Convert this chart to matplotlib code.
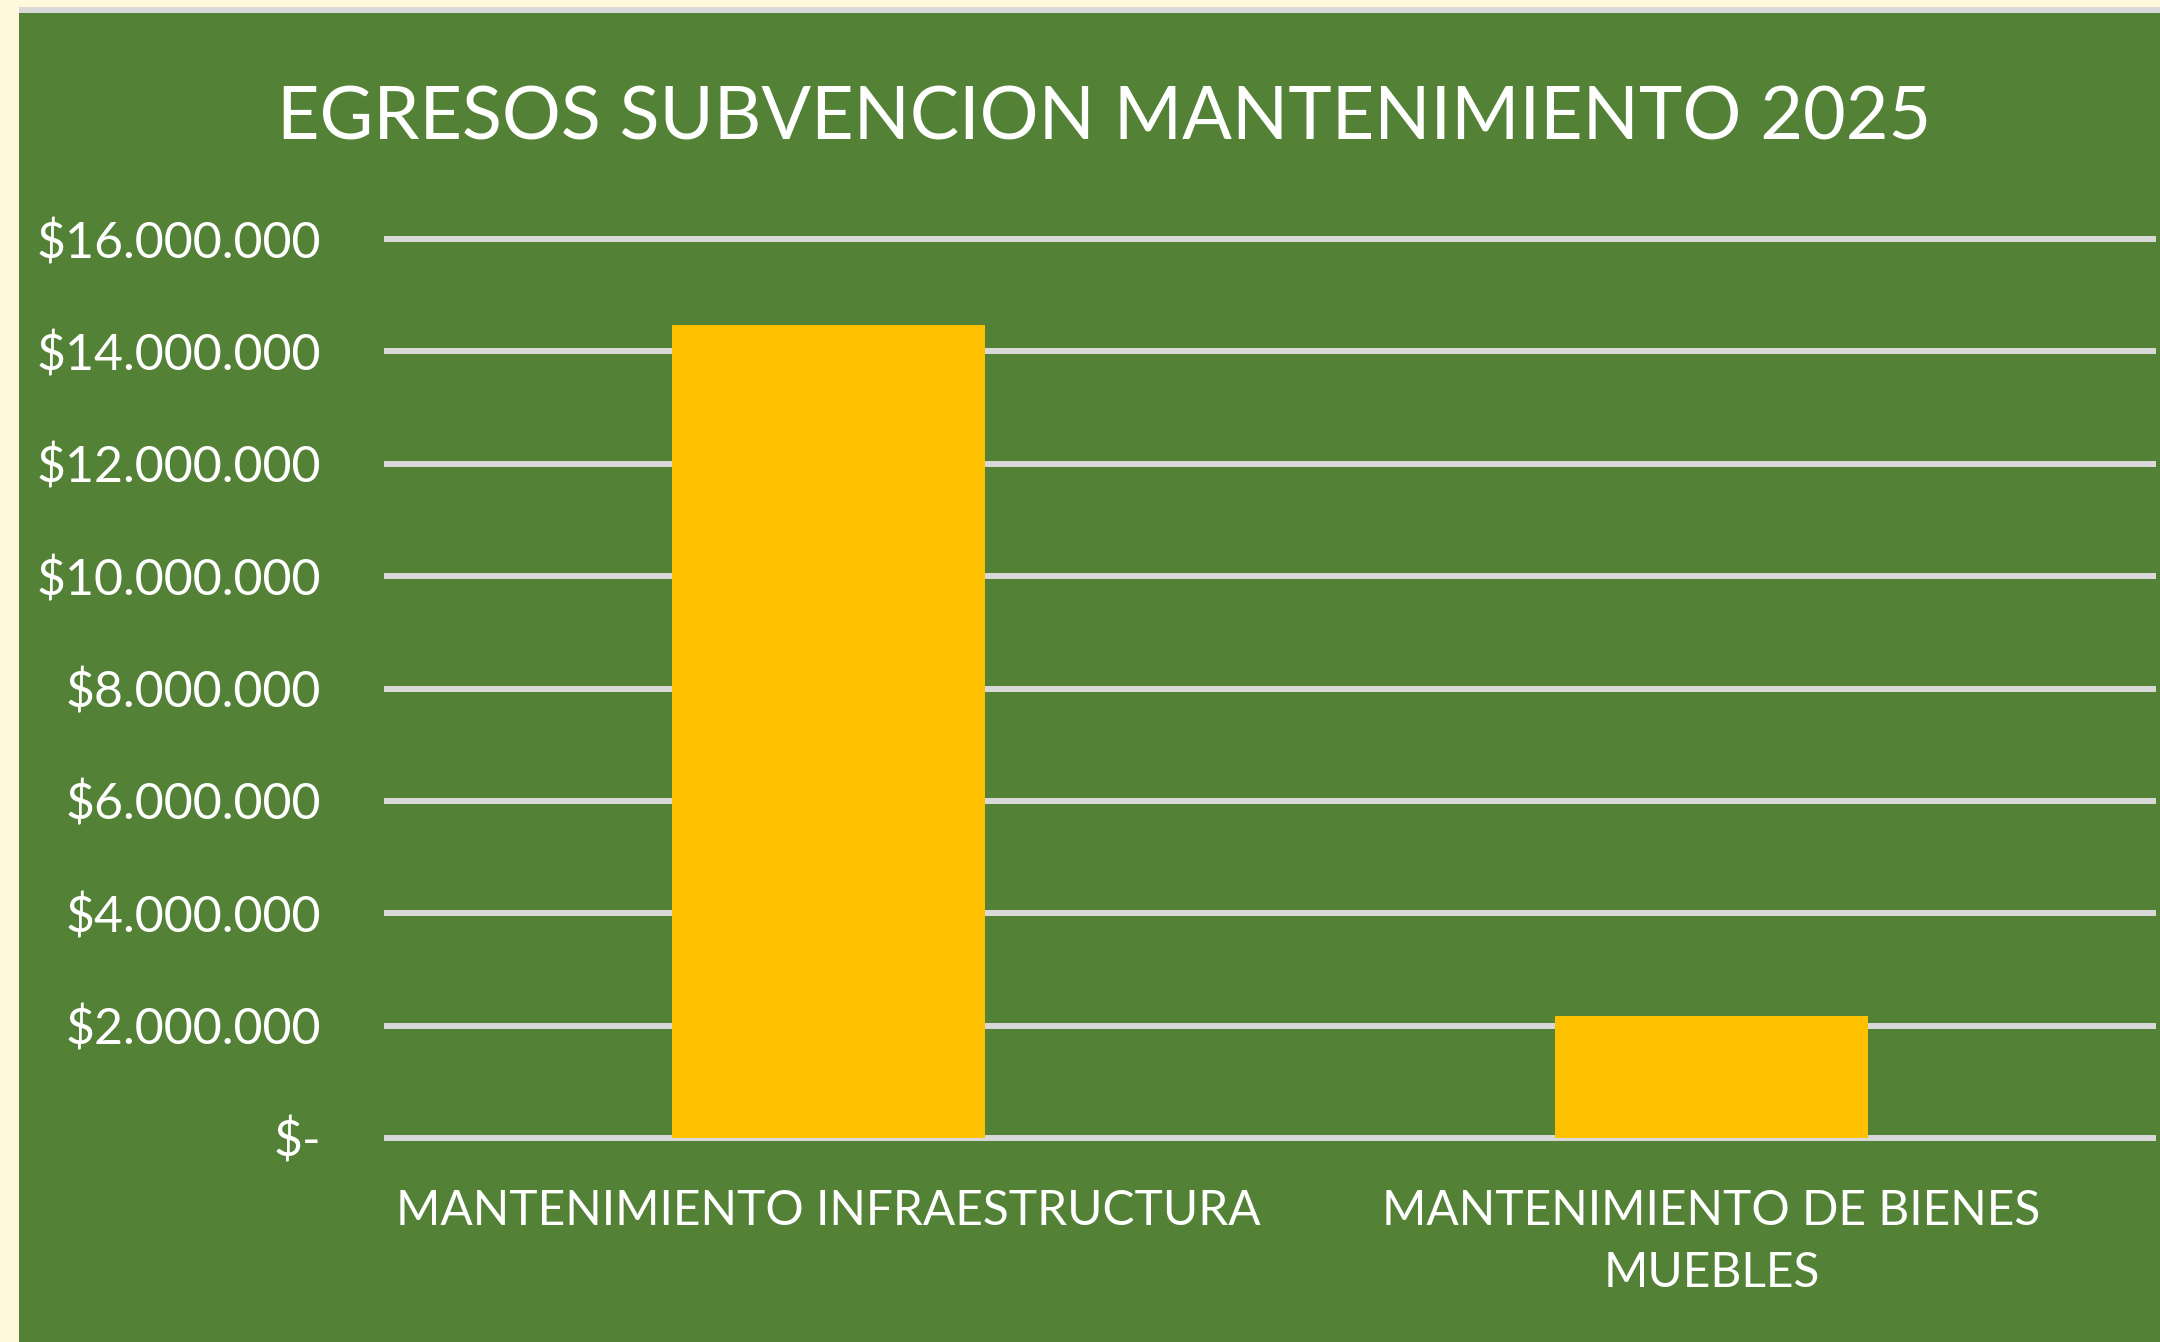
import matplotlib.pyplot as plt
from matplotlib.patches import Rectangle
from matplotlib.ticker import FuncFormatter

# datos
categorias = ['MANTENIMIENTO INFRAESTRUCTURA', 'MANTENIMIENTO DE BIENES\nMUEBLES']
egresos = [14470000, 2170000]
ticks_y = [0, 2000000, 4000000, 6000000, 8000000, 10000000, 12000000, 14000000, 16000000]

VERDE = '#538135'
AMARILLO = '#FFC000'
GRIS = '#D9D9D9'
CREMA = '#FEF8DC'

plt.rcParams['font.family'] = ['Lato', 'DejaVu Sans']

W, H = 2160, 1342
fig = plt.figure(figsize=(W / 100, H / 100), dpi=100, facecolor=CREMA)

# fondo verde y borde gris arriba
fig.patches.append(Rectangle((19 / W, 0), 1, 1 - 13 / H, transform=fig.transFigure,
                             facecolor=VERDE, edgecolor='none', zorder=-2))
fig.patches.append(Rectangle((19 / W, 1 - 13 / H), 1, 6 / H, transform=fig.transFigure,
                             facecolor=GRIS, edgecolor='none', zorder=-2))

ax = fig.add_axes([387 / W, (H - 1138) / H, (2153 - 387) / W, (1138 - 239) / H])
ax.set_facecolor('none')
ax.set_zorder(2)

x = [0, 1]
ax.bar(x, egresos, width=0.354, color=AMARILLO, zorder=3)

ax.set_xlim(-0.5, 1.5)
ax.set_ylim(0, 16000000)
ax.set_yticks(ticks_y)


def pesos(v, pos):
    if v == 0:
        return '$-'
    return '$' + f'{int(v):,}'.replace(',', '.')


ax.yaxis.set_major_formatter(FuncFormatter(pesos))
ax.set_xticks(x)
ax.set_xticklabels(categorias, linespacing=1.5)

ax.tick_params(axis='y', length=0, pad=47.5, labelsize=36, labelcolor='white')
ax.tick_params(axis='x', length=0, pad=37, labelsize=34.5, labelcolor='white')

ax.grid(axis='y', color=GRIS, linewidth=4.3, zorder=1)
for gl in ax.get_ygridlines():
    gl.set_clip_on(False)
ax.set_axisbelow(True)

for s in ax.spines.values():
    s.set_visible(False)

fig.text(1104 / W, 1 - 119 / H, 'EGRESOS SUBVENCION MANTENIMIENTO 2025',
         ha='center', va='center', color='white', fontsize=53, zorder=3)

fig.savefig('out.png', dpi=100, facecolor=CREMA)
